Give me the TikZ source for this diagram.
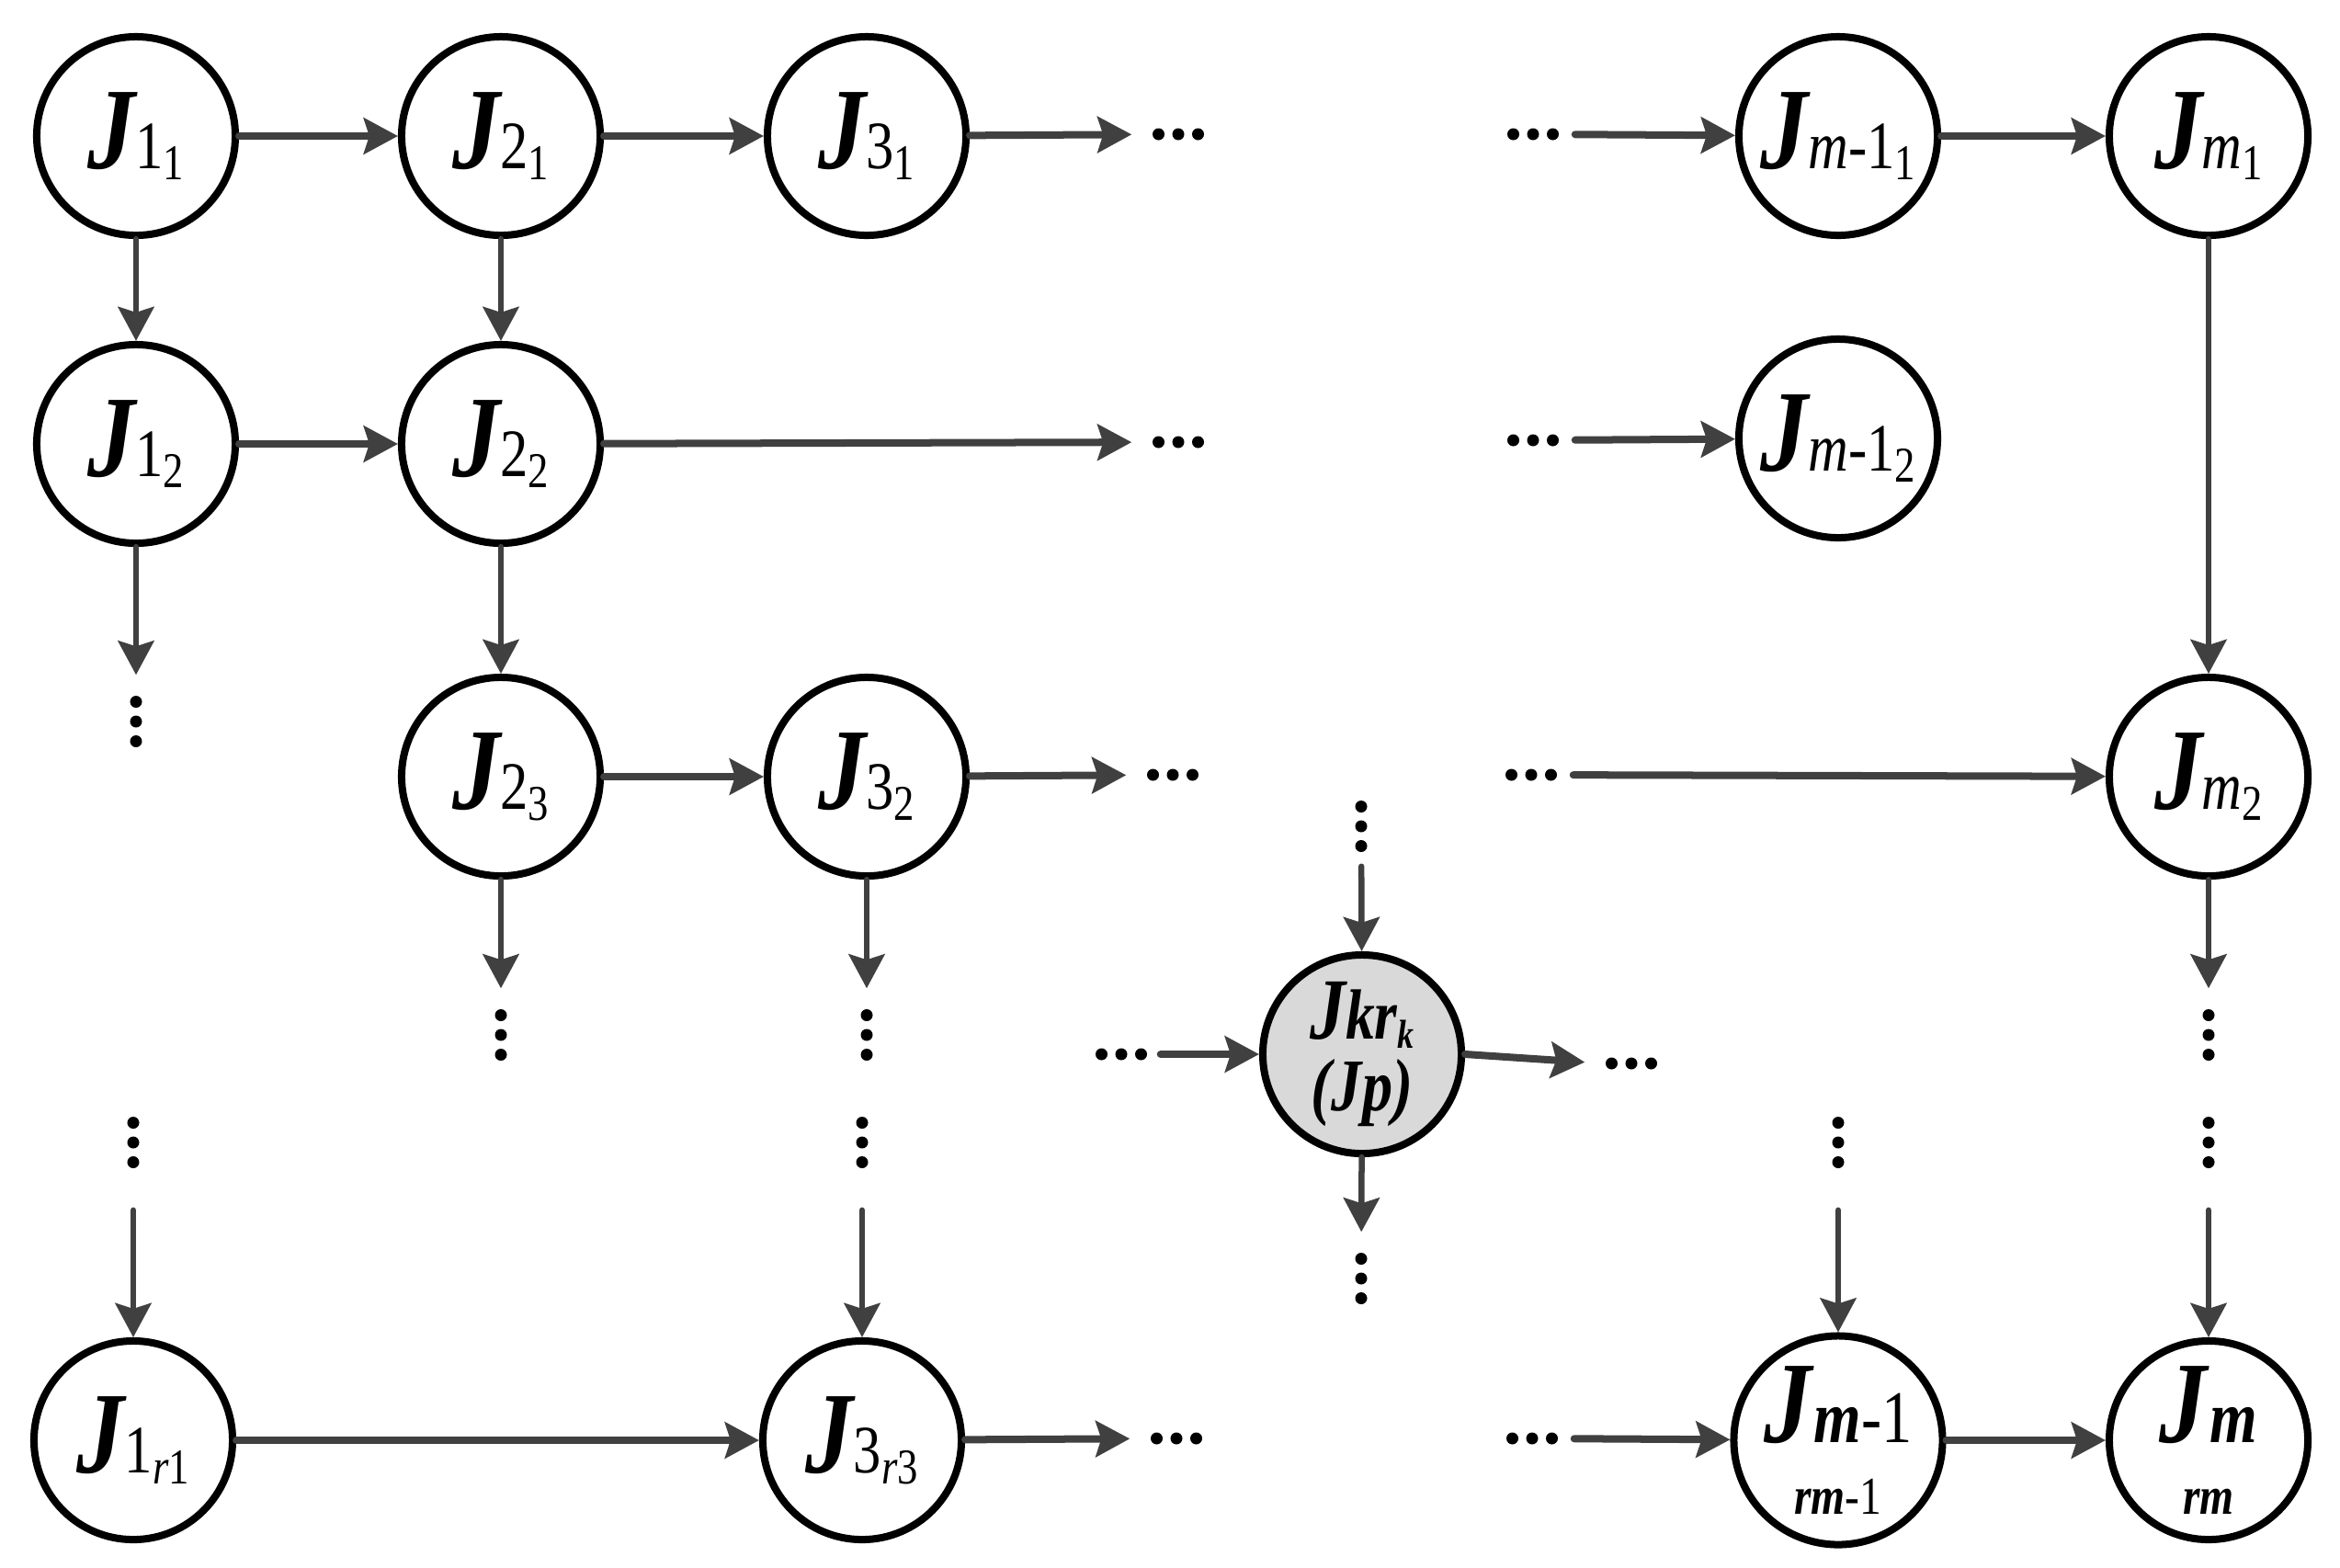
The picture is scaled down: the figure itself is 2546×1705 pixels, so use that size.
\documentclass[tikz,border=0pt]{standalone}
\usepackage{fontspec}
\setmainfont{LiberationSerif}[Extension=.ttf, UprightFont=*-Regular, BoldFont=*-Bold, ItalicFont=*-Italic, BoldItalicFont=*-BoldItalic, FakeStretch=0.82]
\usetikzlibrary{arrows.meta}
\definecolor{arrowgray}{HTML}{404040}
\newcommand{\Jb}{{\fontsize{36}{36}\selectfont\bfseries\itshape J}}
\newcommand{\sA}[1]{{\fontsize{21}{21}\selectfont #1}}
\newcommand{\sB}[1]{\raisebox{-3.5pt}{\fontsize{15.5}{15.5}\selectfont #1}}
\newcommand{\bigsub}[1]{{\fontsize{23}{23}\selectfont #1}}
\newcommand{\lowline}[1]{{\fontsize{16.5}{16.5}\selectfont #1}}
\newcommand{\bi}[1]{\textbf{\textit{#1}}}
\tikzset{
  job/.style={circle, draw=black, line width=0.08cm, minimum size=2.16cm,
    inner sep=0pt, fill=white, align=center,
    font=\fontsize{20}{22}\selectfont},
  jobk/.style={job, fill=black!15},
  harr/.style={draw=arrowgray, line width=0.08cm, line cap=round,
    -{Stealth[length=0.37cm,width=0.39cm,inset=0.06cm]}},
  varr/.style={harr, line width=0.065cm},
  todots/.style={shorten >=0.2cm},
  fromdots/.style={shorten <=0.15cm},
  hdots/.style={rectangle, inner sep=0pt, minimum width=0.6cm, minimum height=0.15cm,
    path picture={
      \fill[black] (path picture bounding box.center) circle (0.065cm);
      \fill[black] ([xshift=-0.215cm]path picture bounding box.center) circle (0.065cm);
      \fill[black] ([xshift=0.215cm]path picture bounding box.center) circle (0.065cm);}},
  vdots/.style={rectangle, inner sep=0pt, minimum width=0.15cm, minimum height=0.6cm,
    path picture={
      \fill[black] (path picture bounding box.center) circle (0.065cm);
      \fill[black] ([yshift=-0.215cm]path picture bounding box.center) circle (0.065cm);
      \fill[black] ([yshift=0.215cm]path picture bounding box.center) circle (0.065cm);}}
}
\begin{document}
\begin{tikzpicture}[x=0.01cm, y=-0.01cm]
\fill[white] (0,0) rectangle (2546,1705);
\useasboundingbox (0,0) rectangle (2546,1705);

% row 1
\node[job] (a11) at (148,148) {\Jb\sA{1}\sB{1}};
\node[job] (a21) at (545,148) {\Jb\sA{2}\sB{1}};
\node[job] (a31) at (943,148) {\Jb\sA{3}\sB{1}};
\node[hdots] (h1a) at (1282,146) {};
\node[hdots] (h1b) at (1668,146) {};
\node[job] (am11) at (2000,148) {\Jb\sA{\textit{m}-1}\sB{1}};
\node[job] (am1) at (2403,148) {\Jb\sA{\textit{m}}\sB{1}};

% row 2
\node[job] (a12) at (148,483) {\Jb\sA{1}\sB{2}};
\node[job] (a22) at (545,483) {\Jb\sA{2}\sB{2}};
\node[hdots] (h2a) at (1282,481) {};
\node[hdots] (h2b) at (1668,479) {};
\node[job] (am12) at (2000,477) {\Jb\sA{\textit{m}-1}\sB{2}};
\node[vdots] (v1) at (148,785) {};

% row 3
\node[job] (a23) at (545,845) {\Jb\sA{2}\sB{3}};
\node[job] (a32) at (943,845) {\Jb\sA{3}\sB{2}};
\node[hdots] (h3a) at (1276,843) {};
\node[hdots] (h3b) at (1666,843) {};
\node[job] (am2) at (2403,845) {\Jb\sA{\textit{m}}\sB{2}};
\node[vdots] (v2) at (545,1126) {};
\node[vdots] (v3) at (943,1126) {};
\node[vdots] (v4) at (2403,1126) {};

% special node
\node[vdots] (vk1) at (1481,899) {};
\node[jobk] (jk) at (1482,1147) {{\fontsize{27}{27}\selectfont\bfseries\itshape J}{\fontsize{22}{22}\selectfont\bfseries\itshape kr}\raisebox{-2.8pt}{\fontsize{12.5}{12.5}\selectfont\bfseries\itshape k}\\{\fontsize{23}{23}\selectfont\bfseries\itshape (Jp)}};
\node[hdots] (hk1) at (1220,1147) {};
\node[hdots] (hk2) at (1775,1157) {};
\node[vdots] (vk2) at (1481,1391) {};

% middle dots
\node[vdots] (vm1) at (145,1243) {};
\node[vdots] (vm3) at (938,1243) {};
\node[vdots] (vmm1) at (2000,1243) {};
\node[vdots] (vmm) at (2403,1243) {};

% row 4
\node[job] (b1) at (145,1567) {\Jb\sA{1}\sB{\textit{r}1}};
\node[job] (b3) at (938,1567) {\Jb\sA{3}\sB{\textit{r}3}};
\node[hdots] (h4a) at (1280,1565) {};
\node[hdots] (h4b) at (1667,1565) {};
\node[job] (bm1) at (2000,1567) {{\Jb\bigsub{\bi{m}-1}}\\{\lowline{\bi{rm}-1}}};
\node[job] (bm) at (2403,1567) {{\Jb\bigsub{\bi{m}}}\\{\lowline{\bi{rm}}}};

% connectors row 1
\draw[harr] (a11) -- (a21);
\draw[harr] (a21) -- (a31);
\draw[harr, todots] (a31) -- (h1a);
\draw[harr, fromdots] (h1b) -- (am11);
\draw[harr] (am11) -- (am1);
% columns
\draw[varr] (a11) -- (a12);
\draw[varr] (a21) -- (a22);
\draw[varr, todots] (a12) -- (v1);
\draw[varr] (a22) -- (a23);
\draw[varr] (am1) -- (am2);
% row 2
\draw[harr] (a12) -- (a22);
\draw[harr, todots] (a22) -- (h2a);
\draw[harr, fromdots] (h2b) -- (am12);
% row 3
\draw[harr] (a23) -- (a32);
\draw[harr, todots] (a32) -- (h3a);
\draw[harr, fromdots] (h3b) -- (am2);
\draw[varr, todots] (a23) -- (v2);
\draw[varr, todots] (a32) -- (v3);
\draw[varr, todots] (am2) -- (v4);
% special node
\draw[varr, shorten <=0.13cm] (vk1) -- (jk);
\draw[harr, shorten <=0.12cm] (hk1) -- (jk);
\draw[harr, todots] (jk.east) -- (hk2.west);
\draw[varr, todots] (jk) -- (vk2);
% into bottom row
\draw[varr, shorten <=0.43cm] (vm1) -- (b1);
\draw[varr, shorten <=0.43cm] (vm3) -- (b3);
\draw[varr, shorten <=0.43cm] (vmm1) -- (bm1);
\draw[varr, shorten <=0.43cm] (vmm) -- (bm);
% row 4
\draw[harr] (b1) -- (b3);
\draw[harr, todots] (b3) -- (h4a);
\draw[harr, fromdots] (h4b) -- (bm1);
\draw[harr] (bm1) -- (bm);
\end{tikzpicture}
\end{document}
